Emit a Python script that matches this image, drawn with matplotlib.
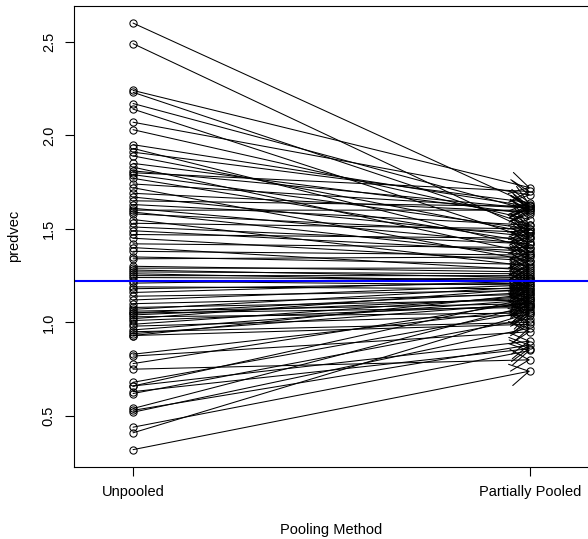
import matplotlib
matplotlib.use("Agg")
import matplotlib.pyplot as plt
from matplotlib.patches import FancyArrowPatch

plt.rcParams["font.family"] = ["Liberation Sans", "DejaVu Sans"]

# county estimates (unpooled -> partially pooled)
unpooled = [2.60, 2.49, 2.24, 2.23, 2.17, 2.14, 2.07, 2.03, 1.95, 1.93,
            1.91, 1.89, 1.85, 1.83, 1.81, 1.80, 1.79, 1.77, 1.74, 1.72,
            1.69, 1.67, 1.65, 1.63, 1.61, 1.60, 1.59, 1.58, 1.55, 1.53,
            1.51, 1.49, 1.47, 1.45, 1.42, 1.40, 1.38, 1.35, 1.34, 1.30,
            1.29, 1.28, 1.27, 1.26, 1.25, 1.24, 1.22, 1.21, 1.19, 1.18,
            1.16, 1.14, 1.12, 1.10, 1.08, 1.07, 1.06, 1.05, 1.05, 1.04,
            1.03, 1.02, 1.01, 0.99, 0.98, 0.96, 0.95, 0.94, 0.93, 0.93,
            0.83, 0.82, 0.78, 0.75, 0.68, 0.66, 0.66, 0.63, 0.62, 0.54,
            0.53, 0.52, 0.44, 0.41, 0.32]
partial = [1.63, 1.49, 1.72, 1.52, 1.60, 1.45, 1.68, 1.55, 1.62, 1.40,
           1.64, 1.48, 1.58, 1.37, 1.61, 1.70, 1.50, 1.43, 1.61, 1.33,
           1.59, 1.46, 1.62, 1.52, 1.42, 1.60, 1.36, 1.48, 1.30, 1.50,
           1.42, 1.38, 1.45, 1.33, 1.40, 1.28, 1.36, 1.31, 1.35, 1.27,
           1.29, 1.24, 1.26, 1.22, 1.25, 1.23, 1.20, 1.24, 1.18, 1.21,
           1.22, 1.17, 1.20, 1.15, 1.12, 1.19, 1.10, 1.16, 1.08, 1.13,
           1.05, 1.18, 1.09, 1.14, 1.04, 1.12, 1.00, 1.10, 0.99, 1.15,
           1.07, 0.95, 1.11, 0.80, 1.06, 0.90, 1.13, 0.86, 1.02, 1.09,
           0.88, 0.97, 0.85, 1.05, 0.74]
grand_mean = 1.22
methods = ["Unpooled", "Partially Pooled"]
yticks = [0.5, 1.0, 1.5, 2.0, 2.5]

fig = plt.figure(figsize=(5.88, 5.39), dpi=100)
ax = fig.add_axes([74.3 / 588, 1 - 466.7 / 539, 514.5 / 588, 460.7 / 539])

n = len(unpooled)
xs = [1] * n + [2] * n
ys = unpooled + partial
ax.plot(xs, ys, linestyle="none", marker="o", markersize=5.2,
        markerfacecolor="none", markeredgecolor="black", markeredgewidth=0.75)

for u, p in zip(unpooled, partial):
    arr = FancyArrowPatch((1, u), (2, p), arrowstyle="->,head_length=13.5,head_width=7.8",
                          mutation_scale=1, shrinkA=0, shrinkB=0,
                          color="black", linewidth=0.75)
    ax.add_patch(arr)

ax.axhline(grand_mean, color="#0000ff", linewidth=1.5)

lo, hi = min(ys), max(ys)
pad = (hi - lo) * 0.04
ax.set_ylim(lo - pad, hi + pad)
ax.set_xlim(0.9 - 0.048, 2.1 + 0.048)

ax.set_xticks([1, 2])
ax.set_xticklabels(methods)
ax.set_yticks(yticks)
ax.set_yticklabels([str(t) for t in yticks], rotation=90, va="center")
ax.tick_params(direction="out", length=6.3, width=0.8, labelsize=10.5, pad=7)

for s in ax.spines.values():
    s.set_linewidth(0.8)

ax.set_xlabel("Pooling Method", fontsize=10.5)
ax.set_ylabel("predvec", fontsize=10.5)
ax.xaxis.set_label_coords(0.5, -(530 - 466.7) / 460.7)
ax.xaxis.label.set_va("center")
ax.yaxis.set_label_coords(-(74.3 - 13.7) / 514.5, 0.5)
ax.yaxis.label.set_va("center")

fig.savefig("out.png", dpi=100)
